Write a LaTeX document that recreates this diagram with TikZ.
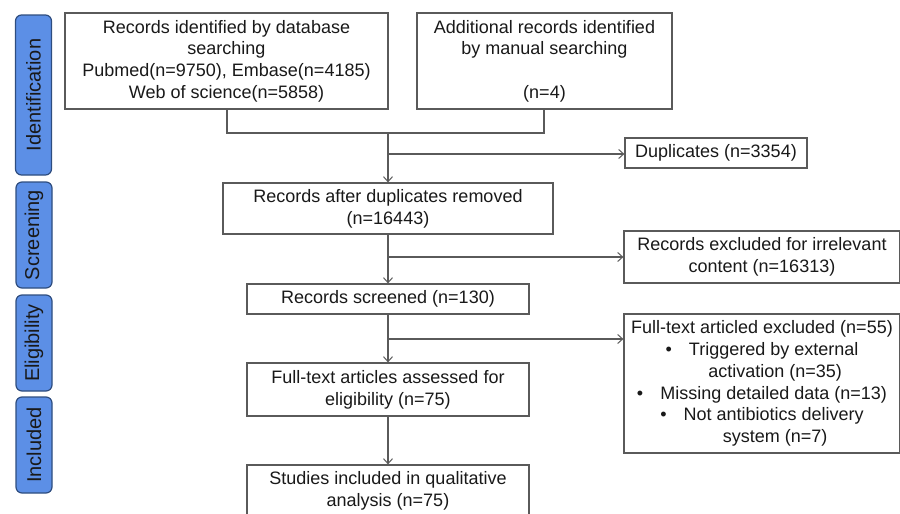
\documentclass[tikz,border=0pt]{standalone}
\usepackage{fontspec}
\setmainfont{Liberation Sans}
\usetikzlibrary{arrows.meta}
\definecolor{phasefill}{HTML}{5C8FE6}
\definecolor{phaseedge}{HTML}{2E4D7F}
\definecolor{boxedge}{HTML}{5A5A5A}
\tikzset{
  box/.style={draw=boxedge, line width=1.2pt, fill=white, align=center, inner sep=0pt,
    font=\fontsize{18}{21.7}\selectfont, text=black!90},
  phase/.style={draw=phaseedge, line width=1.2pt, fill=phasefill, rounded corners=6pt,
    inner sep=0pt, font=\fontsize{20}{24}\selectfont, text=black!90},
  conn/.style={draw=boxedge, line width=1.1pt},
  arr/.style={conn, -{Straight Barb[length=5pt,width=9pt,line width=1pt]}}
}
\begin{document}
\begin{tikzpicture}[x=1pt,y=-1pt]
\useasboundingbox (0,0) rectangle (900,514);
\clip (0,0) rectangle (900,514);
% phase labels
\node[phase, minimum width=36pt, minimum height=160pt] (pid) at (33.5,95) {};
\node[rotate=90, font=\fontsize{20}{24}\selectfont, text=black!90] (tid) at (pid.center) {Identification};
\node[phase, minimum width=36pt, minimum height=106pt] (psc) at (34,235) {};
\node[rotate=90, font=\fontsize{20}{24}\selectfont, text=black!90] (tsc) at (psc.center) {Screening};
\node[phase, minimum width=36pt, minimum height=96pt] (pel) at (34,343) {};
\node[rotate=90, font=\fontsize{20}{24}\selectfont, text=black!90] (tel) at (pel.center) {Eligibility};
\node[phase, minimum width=36pt, minimum height=96pt] (pin) at (34,445) {};
\node[rotate=90, font=\fontsize{20}{24}\selectfont, text=black!90] (tin) at (pin.center) {Included};
% boxes
\node[box, minimum width=323pt, minimum height=96pt] (db) at (226.5,61)
  {Records identified by database\\searching\\Pubmed(n=9750), Embase(n=4185)\\Web of science(n=5858)};
\node[box, minimum width=255pt, minimum height=96pt] (man) at (544.5,61)
  {Additional records identified\\by manual searching\\[21.7pt](n=4)};
\node[box, minimum width=182pt, minimum height=30pt] (dup) at (716,153)
  {Duplicates (n=3354)};
\node[box, minimum width=330pt, minimum height=51pt] (rem) at (388,208.5)
  {Records after duplicates removed\\(n=16443)};
\node[box, minimum width=276pt, minimum height=52pt] (irr) at (762,257)
  {Records excluded for irrelevant\\content (n=16313)};
\node[box, minimum width=282pt, minimum height=30pt] (scr) at (388,299)
  {Records screened (n=130)};
\node[box, minimum width=276pt, minimum height=139pt] (ftx) at (762,383.5)
  {Full-text articled excluded (n=55)\\
   \textbullet\hspace{0.95em}Triggered by external\\
   \hspace*{1.45em}activation (n=35)\\
   \textbullet\hspace{0.95em}Missing detailed data (n=13)\\
   \textbullet\hspace{0.95em}Not antibiotics delivery\\
   \hspace*{1.45em}system (n=7)};
\node[box, minimum width=282pt, minimum height=53pt] (fta) at (388,389.5)
  {Full-text articles assessed for\\eligibility (n=75)};
\node[box, minimum width=282pt, minimum height=52pt] (inc) at (388,491)
  {Studies included in qualitative\\analysis (n=75)};
% connectors
\coordinate (dbj) at (227,133);
\coordinate (manj) at (544,133);
\coordinate (mj) at (388,133);
\coordinate (dj) at (388,154);
\coordinate (sj) at (388,257);
\coordinate (fj) at (388,339);
\draw[conn] (db.south -| dbj) -- (dbj) -- (manj) -- (man.south -| manj);
\draw[arr] (mj) -- (rem.north);
\draw[arr] (dj) -- (dup.west |- dj);
\draw[arr] (rem.south) -- (scr.north);
\draw[arr] (sj) -- (irr.west |- sj);
\draw[arr] (scr.south) -- (fta.north);
\draw[arr] (fj) -- (ftx.west |- fj);
\draw[arr] (fta.south) -- (inc.north);
\end{tikzpicture}
\end{document}
